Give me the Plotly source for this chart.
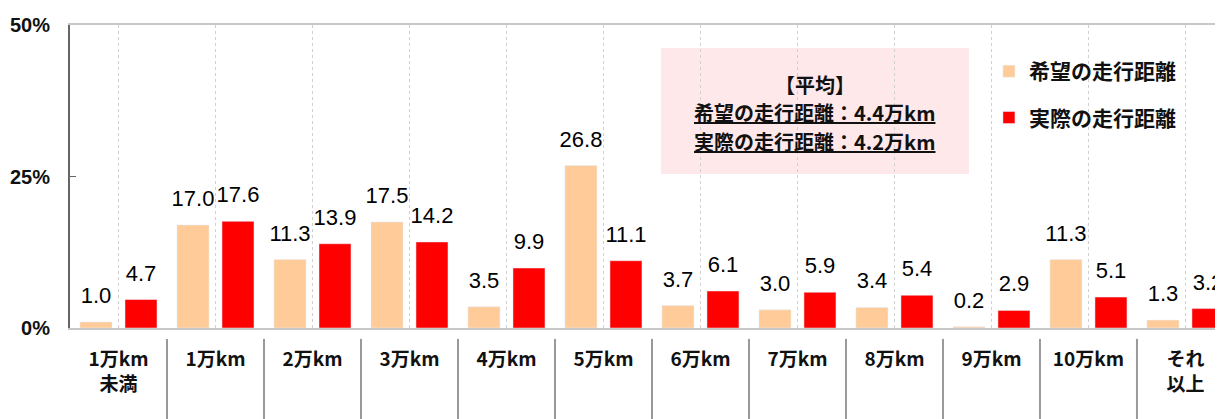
import plotly.graph_objects as go

# ---------------------------------------------------------------------------
# Data
# ---------------------------------------------------------------------------

categories = ["1万km<br>未満", "1万km", "2万km", "3万km", "4万km", "5万km",
              "6万km", "7万km", "8万km", "9万km", "10万km", "それ<br>以上"]
hope = [1.0, 17.0, 11.3, 17.5, 3.5, 26.8, 3.7, 3.0, 3.4, 0.2, 11.3, 1.3]
actual = [4.7, 17.6, 13.9, 14.2, 9.9, 11.1, 6.1, 5.9, 5.4, 2.9, 5.1, 3.2]
series_names = ["希望の走行距離", "実際の走行距離"]
avg_lines = ["【平均】", "希望の走行距離：4.4万km", "実際の走行距離：4.2万km"]

# ---------------------------------------------------------------------------
# Style
# ---------------------------------------------------------------------------

_FONT = "Liberation Sans, Arial, Noto Sans CJK JP, sans-serif"
_JP_FONT = "Noto Sans CJK JP, sans-serif"
_PEACH = "#FFCC99"
_RED = "#FF0000"
_BARGAP = 0.072
_GROUPGAP = 0.289

x_idx = list(range(len(categories)))
# half of one bar slot inside a group -> offset of each bar's centre
_offset = (1 - _BARGAP) / 4

fig = go.Figure()
series = [(series_names[0], hope, _PEACH, "a", -_offset),
          (series_names[1], actual, _RED, "b", _offset)]
for name, vals, color, grp, off in series:
    fig.add_trace(go.Bar(
        x=x_idx, y=vals, name=name, marker_color=color,
        legendgroup=grp,
    ))
# value labels (separate trace so the gap above the bars matches)
for name, vals, color, grp, off in series:
    fig.add_trace(go.Scatter(
        x=[i + off for i in x_idx], y=vals, mode="markers+text",
        text=[f"{v:.1f}" for v in vals], textposition="top center",
        textfont=dict(family=_FONT, size=22, color="#000"),
        marker=dict(size=20, opacity=0), showlegend=False,
        hoverinfo="skip", cliponaxis=False,
    ))

# separators beneath the axis
for i in range(len(categories) - 1):
    fig.add_shape(type="line", xref="x", yref="paper",
                  x0=i + 0.5, x1=i + 0.5, y0=-0.036, y1=-0.34,
                  line=dict(color="#999999", width=2))

# average box
fig.add_shape(type="rect", xref="paper", yref="paper",
              x0=0.5126, x1=0.7797, y0=0.508, y1=0.924,
              fillcolor="#FFE8EA", line=dict(width=0), layer="below")
for k, (line, ypos) in enumerate(zip(avg_lines, [0.805, 0.710, 0.614])):
    txt = f"<b>{line}</b>" if k == 0 else f"<b><u>{line}</u></b>"
    fig.add_annotation(x=0.646, y=ypos, xref="paper", yref="paper",
                       xanchor="center", yanchor="middle",
                       text=txt, showarrow=False,
                       font=dict(family=_JP_FONT, size=20, color="#111"))

fig.update_layout(
    width=1223, height=419,
    margin=dict(l=62, r=8, t=17, b=99),
    plot_bgcolor="white", paper_bgcolor="white",
    barmode="group", bargap=_BARGAP, bargroupgap=_GROUPGAP,
    font=dict(family=_FONT, color="#111"),
    showlegend=True,
    legend=dict(x=0.797, y=0.914, xanchor="left", yanchor="top",
                font=dict(family=_JP_FONT, size=21, color="#111", weight="bold"),
                tracegroupgap=16, bgcolor="rgba(0,0,0,0)"),
    xaxis=dict(
        tickmode="array", tickvals=x_idx, ticktext=[f"<b>{c}</b>" for c in categories],
        range=[-0.5, 11.387], tickson="boundaries", ticks="",
        showgrid=True, gridcolor="#D0D0D0", griddash="dot", gridwidth=1,
        showline=True, linecolor="#C8C8C8", linewidth=2, mirror=True,
        tickfont=dict(family=_JP_FONT, size=19, color="#111"),
        ticklabelstandoff=13, automargin=False,
    ),
    yaxis=dict(
        range=[0, 50], tickvals=[0, 25, 50], ticktext=["<b>0%</b>", "<b>25%</b>", "<b>50%</b>"],
        showgrid=False, zeroline=False, showline=True, linecolor="#666666", linewidth=2,
        ticks="inside", ticklen=6, tickcolor="#666666",
        tickfont=dict(family=_FONT, size=20, color="#111"),
        ticklabelstandoff=14, automargin=False,
    ),
)

fig.write_html("out.html")
